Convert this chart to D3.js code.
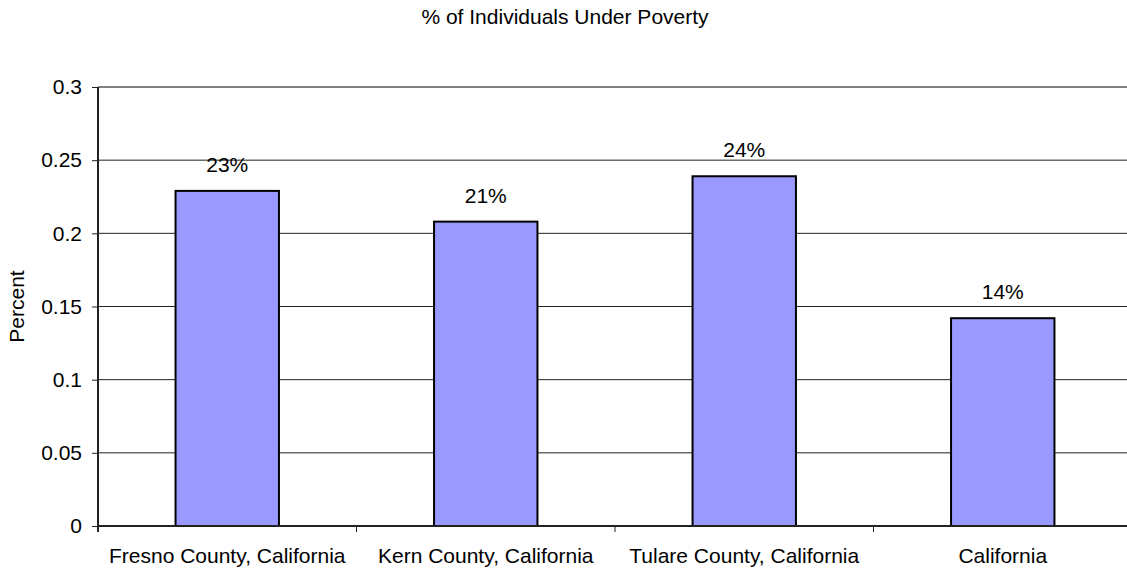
<!DOCTYPE html>
<html>
<head>
<meta charset="utf-8">
<script src="https://cdn.jsdelivr.net/npm/d3@7"></script>
<style>
  body { margin: 0; background: #fff; }
  text { font-family: "Liberation Sans", Arial, sans-serif; fill: #000; }
</style>
</head>
<body>
<svg id="chart" width="1127" height="571"></svg>
<script>
var categories = ["Fresno County, California", "Kern County, California", "Tulare County, California", "California"];
var values = [0.229, 0.208, 0.239, 0.142];
var labels = ["23%", "21%", "24%", "14%"];
var yTicks = [0, 0.05, 0.1, 0.15, 0.2, 0.25, 0.3];

var fs = "21px";

var svg = d3.select("#chart"),
    margin = {top: 87, right: -5, bottom: 45, left: 98},
    width = +svg.attr("width") - margin.left - margin.right,
    height = +svg.attr("height") - margin.top - margin.bottom,
    g = svg.append("g").attr("transform", "translate(" + margin.left + "," + margin.top + ")");

var x = d3.scaleBand().domain(categories).range([0, width]).paddingInner(0.6).paddingOuter(0.3);
var y = d3.scaleLinear().domain([0, 0.3]).range([height, 0]);

// gridlines
g.selectAll(".grid")
  .data(yTicks.filter(function(d) { return d > 0 && d < 0.3; }))
  .enter().append("line")
  .attr("x1", 0).attr("x2", width)
  .attr("y1", function(d) { return y(d); }).attr("y2", function(d) { return y(d); })
  .attr("stroke", "#222").attr("stroke-width", 1);

// top border
g.append("line")
  .attr("x1", 0).attr("x2", width)
  .attr("y1", y(0.3)).attr("y2", y(0.3))
  .attr("stroke", "#808080").attr("stroke-width", 2);

// bars
g.selectAll(".bar")
  .data(values)
  .enter().append("rect")
  .attr("x", function(d, i) { return x(categories[i]); })
  .attr("y", function(d) { return y(d); })
  .attr("width", x.bandwidth())
  .attr("height", function(d) { return height - y(d); })
  .attr("fill", "#9999ff")
  .attr("stroke", "#000").attr("stroke-width", 2);

// value labels
g.selectAll(".lbl")
  .data(values)
  .enter().append("text")
  .attr("x", function(d, i) { return x(categories[i]) + x.bandwidth() / 2; })
  .attr("y", function(d) { return y(d) - 19; })
  .attr("text-anchor", "middle")
  .style("font-size", fs)
  .text(function(d, i) { return labels[i]; });

// y axis
var yAxis = g.append("g")
  .call(d3.axisLeft(y).tickValues(yTicks).tickSize(6).tickPadding(10).tickFormat(function(d) { return d; }));
yAxis.select(".domain").remove();
yAxis.selectAll("line").attr("stroke", "#222");
yAxis.selectAll("text").style("font-size", fs).style("font-family", "Liberation Sans, Arial, sans-serif");
g.append("line")
  .attr("x1", 0).attr("x2", 0).attr("y1", 0).attr("y2", height + 6)
  .attr("stroke", "#222").attr("stroke-width", 2);

// x axis
g.append("line")
  .attr("x1", 0).attr("x2", width).attr("y1", height).attr("y2", height)
  .attr("stroke", "#222").attr("stroke-width", 2);
g.selectAll(".xtick")
  .data(categories.slice(1))
  .enter().append("line")
  .attr("x1", function(d) { return x(d) - x.step() * x.paddingInner() / 2; })
  .attr("x2", function(d) { return x(d) - x.step() * x.paddingInner() / 2; })
  .attr("y1", height).attr("y2", height + 6)
  .attr("stroke", "#222");
g.selectAll(".xlbl")
  .data(categories)
  .enter().append("text")
  .attr("x", function(d) { return x(d) + x.bandwidth() / 2; })
  .attr("y", height + 37)
  .attr("text-anchor", "middle")
  .style("font-size", fs)
  .text(function(d) { return d; });

// titles
svg.append("text")
  .attr("x", 565).attr("y", 24)
  .attr("text-anchor", "middle")
  .style("font-size", fs)
  .text("% of Individuals Under Poverty");

svg.append("text")
  .attr("transform", "translate(24," + (margin.top + height / 2) + ") rotate(-90)")
  .attr("text-anchor", "middle")
  .style("font-size", fs)
  .text("Percent");
</script>
</body>
</html>
